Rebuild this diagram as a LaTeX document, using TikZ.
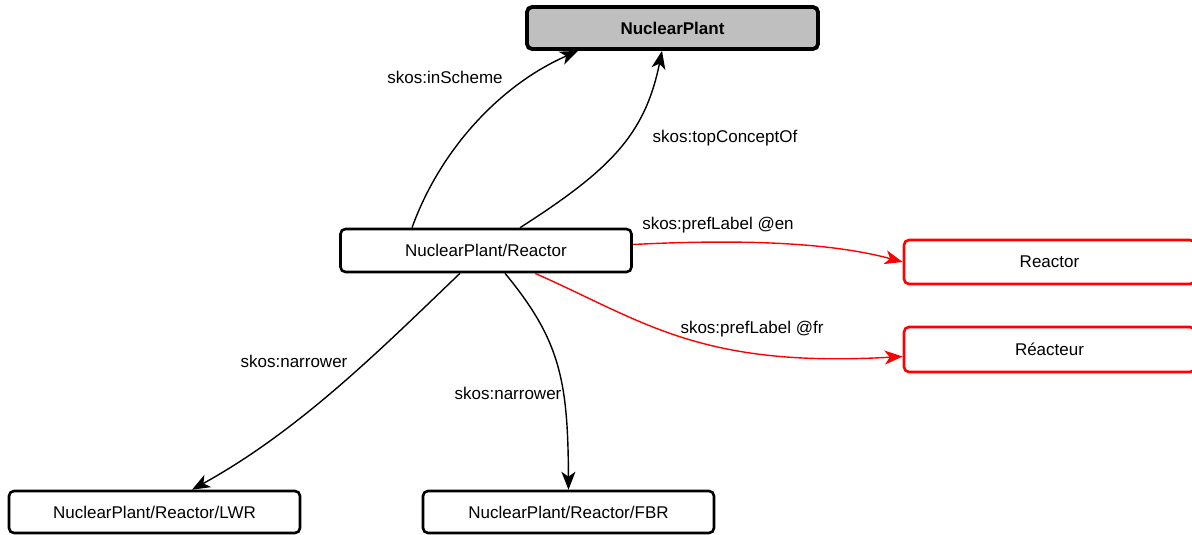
\documentclass[tikz,border=0pt]{standalone}
\usepackage{fontspec}
\setmainfont{Liberation Sans}
\usetikzlibrary{arrows.meta}
\begin{document}
\begin{tikzpicture}[x=1pt,y=-1pt,
  box/.style={draw=black,line width=2.6pt,rounded corners=5pt,fill=white,minimum height=42pt,minimum width=291pt,inner sep=0pt,font=\fontsize{17}{20}\selectfont},
  topbox/.style={box,fill=black!25,line width=3.8pt,font=\fontsize{17}{20}\selectfont\bfseries},
  redbox/.style={box,draw=red},
  edge/.style={line width=1.4pt,-{Stealth[length=18pt,width=14pt,inset=5pt]}},
  rededge/.style={edge,draw=red,-{Stealth[length=18pt,width=14pt,inset=5pt,red]}},
  lbl/.style={font=\fontsize{17}{20}\selectfont,inner sep=0pt}]
\useasboundingbox (0,0) rectangle (1192,535);
\node[topbox] (np) at (672.5,28) {NuclearPlant};
\node[box,minimum height=43pt] (src) at (486,250.5) {NuclearPlant/Reactor};
\node[redbox,minimum height=44pt] (en) at (1049.5,262) {Reactor};
\node[redbox,minimum height=45pt] (fr) at (1049.5,349.5) {Réacteur};
\node[box] (lwr) at (154.5,512) {NuclearPlant/Reactor/LWR};
\node[box] (fbr) at (568.5,512) {NuclearPlant/Reactor/FBR};

\draw[edge] ([xshift=-74pt]src.north) .. controls (440,150) and (500,85) .. ([xshift=-94.5pt]np.south);
\draw[edge] ([xshift=34pt]src.north) .. controls (610,170) and (645,135) .. ([xshift=-10.5pt]np.south);
\draw[rededge] ([yshift=6pt]src.east) .. controls (760,238) and (840,245) .. (en.west);
\draw[rededge] ([xshift=49pt]src.south) .. controls (645,322) and (700,368) .. ([yshift=-7pt]fr.west);
\draw[edge] ([xshift=-26pt]src.south) .. controls (380,350) and (300,430) .. ([xshift=37.5pt]lwr.north);
\draw[edge] ([xshift=19pt]src.south) .. controls (560,340) and (568,380) .. (fbr.north);

\node[lbl] (l1) at (445,77) {skos:inScheme};
\node[lbl] (l2) at (725,138) {skos:topConceptOf};
\node[lbl] (l3) at (718,225) {skos:prefLabel @en};
\node[lbl] (l4) at (752,329) {skos:prefLabel @fr};
\node[lbl] (l5) at (294,361) {skos:narrower};
\node[lbl] (l6) at (508,393) {skos:narrower};
\end{tikzpicture}
\end{document}
